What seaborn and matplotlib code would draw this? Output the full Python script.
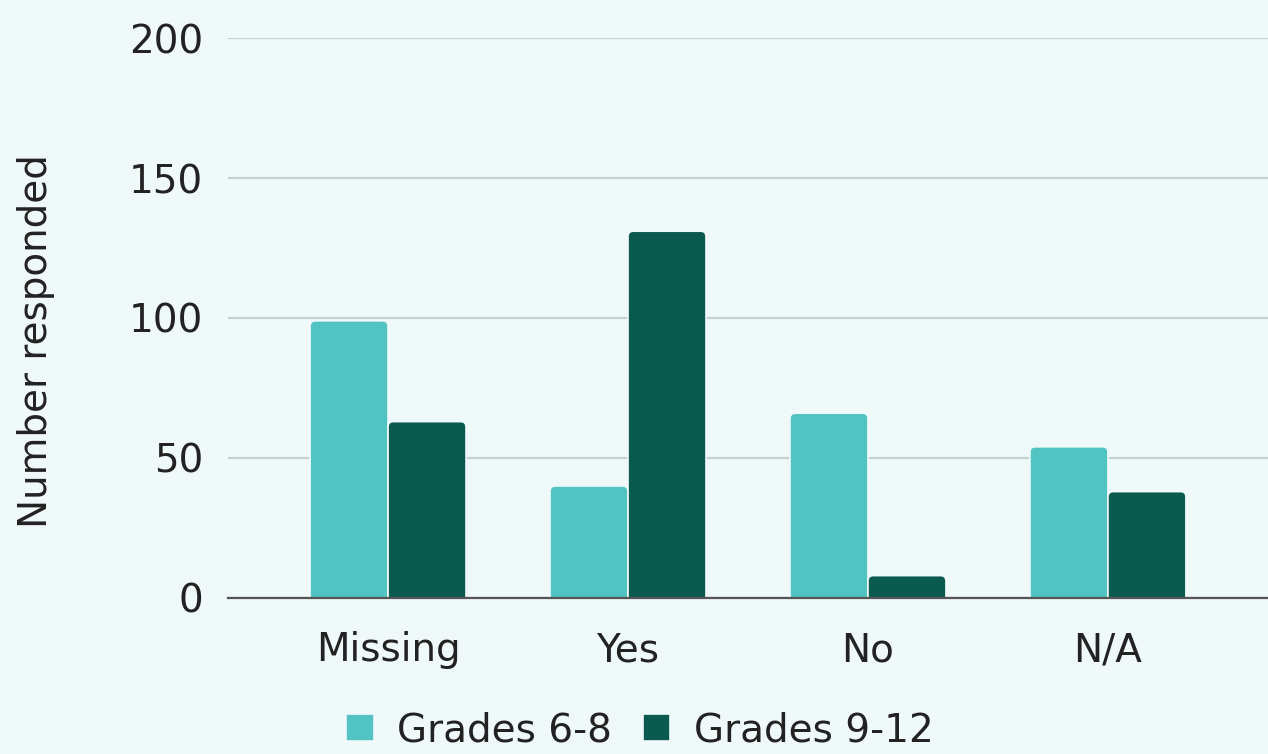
import numpy as np
import pandas as pd
import matplotlib.pyplot as plt
import seaborn as sns
from matplotlib.patches import FancyBboxPatch

# survey answers per grade band
categories = ['Missing', 'Yes', 'No', 'N/A']
grades_6_8 = [99, 40, 66, 54]
grades_9_12 = [63, 131, 8, 38]
series_names = ['Grades 6-8', 'Grades 9-12']

bg = '#eff9fa'
colors = ['#52c3c3', '#0b5a4f']

df = pd.DataFrame({
    'answer': categories * 2,
    'count': grades_6_8 + grades_9_12,
    'group': [series_names[0]] * 4 + [series_names[1]] * 4,
})

sns.set_style('white')
plt.rcParams['font.family'] = ['DejaVu Sans']

fig = plt.figure(figsize=(12.68, 7.54), dpi=100, facecolor=bg)
ax = fig.add_axes([0.1798, 0.2069, 0.8202, 0.7427])
ax.set_facecolor(bg)

sns.barplot(data=df, x='answer', y='count', hue='group', palette=colors,
            width=0.65, edgecolor=bg, linewidth=1.2, saturation=1, ax=ax)

ax.set_ylim(0, 200)
ax.set_xlim(-0.667, 3.667)

# round off the bar tops (x: 240 px per unit, y: 2.8 px per unit)
aspect = 240 / 2.8
for p in list(ax.patches):
    x, w, h = p.get_x(), p.get_width(), p.get_height()
    if h <= 0:
        continue
    fb = FancyBboxPatch((x, -3), w, h + 3,
                        boxstyle='round,pad=0,rounding_size=0.022',
                        mutation_aspect=aspect, facecolor=p.get_facecolor(),
                        edgecolor=bg, linewidth=1.2, zorder=p.get_zorder())
    ax.add_patch(fb)
    p.set_visible(False)

ax.set_yticks([0, 50, 100, 150, 200])
ax.yaxis.grid(True, color='#c5d0d0', linewidth=1.6)
ax.set_axisbelow(True)
for s in ['top', 'right', 'left']:
    ax.spines[s].set_visible(False)
ax.spines['bottom'].set_color('#555555')
ax.spines['bottom'].set_linewidth(1.6)
ax.spines['bottom'].set_zorder(5)
ax.tick_params(axis='both', length=0, labelsize=28, colors='#222222')
ax.tick_params(axis='y', pad=18)
ax.tick_params(axis='x', pad=24)
ax.set_xlabel('')
ax.set_ylabel('Number responded', fontsize=28, color='#222222')
ax.yaxis.set_label_coords(-0.166, 0.459)

handles, labels = ax.get_legend_handles_labels()
ax.legend(handles, labels, loc='upper center', bbox_to_anchor=(0.396, -0.14),
          ncol=2, frameon=False, fontsize=28, handlelength=0.7, handleheight=0.7,
          handletextpad=0.6, columnspacing=0.8, labelcolor='#222222')

fig.savefig('out.png', dpi=100, facecolor=bg)
